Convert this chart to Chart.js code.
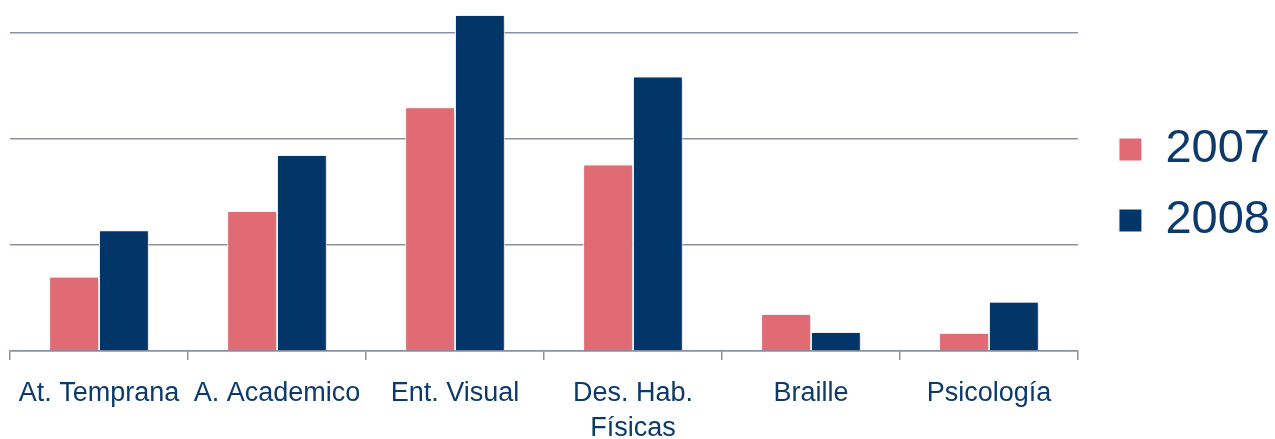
<!DOCTYPE html>
<html><head><meta charset="utf-8">
<script src="https://cdn.jsdelivr.net/npm/chart.js@4.4.0/dist/chart.umd.min.js"></script>
<style>html,body{margin:0;padding:0;background:#fff}#wrap{width:1275px;height:439px}</style>
</head><body><div id="wrap"><canvas id="c"></canvas></div>
<script>
const categories = ['At. Temprana', 'A. Academico', 'Ent. Visual', ['Des. Hab.', 'Físicas'], 'Braille', 'Psicología'];
const series2007 = [7.0, 13.2, 23.0, 17.6, 3.5, 1.7];
const series2008 = [11.4, 18.5, 31.7, 25.9, 1.8, 4.65];
const yTicks = [0, 10, 20, 30];

const TEXT = '#0B3A6B';
const GRID = '#8A91A3';

const shadow = {
  id: 'shadow',
  beforeDatasetsDraw(chart) {
    const ctx = chart.ctx; ctx.save();
    ctx.shadowColor = 'rgba(0,0,0,0.28)'; ctx.shadowBlur = 5; ctx.shadowOffsetX = 1.5; ctx.shadowOffsetY = 1.5;
  },
  afterDatasetsDraw(chart) { chart.ctx.restore(); }
};

const legendShift = {
  id: 'legendShift',
  afterLayout(chart) {
    const lg = chart.legend;
    if (!lg) return;
    lg.left += 17; lg.right += 17;
    lg.top -= 7; lg.bottom -= 7;
  }
};

new Chart(document.getElementById('c'), {
  type: 'bar',
  data: {
    labels: categories,
    datasets: [
      { label: '2007', data: series2007, backgroundColor: '#E06B75', borderColor: '#ffffff', borderWidth: 1, clip: false },
      { label: '2008', data: series2008, backgroundColor: '#033668', borderColor: '#ffffff', borderWidth: 1, clip: false }
    ]
  },
  options: {
    responsive: true, maintainAspectRatio: false, animation: false,
    devicePixelRatio: 1,
    layout: { padding: { top: 33, left: 10, right: 12, bottom: 0 } },
    datasets: { bar: { categoryPercentage: 0.56, barPercentage: 1.0 } },
    plugins: {
      legend: {
        position: 'right', fullSize: false,
        labels: { color: TEXT, font: { family: 'Liberation Sans', size: 47 }, boxWidth: 23, boxHeight: 23, padding: 24 }
      },
      tooltip: { enabled: false }
    },
    scales: {
      x: {
        afterFit(axis) { axis.height = 88; },
        grid: { drawOnChartArea: false, drawTicks: true, tickLength: 9, color: GRID, lineWidth: 1.5 },
        border: { display: true, color: GRID, width: 1.5 },
        ticks: { color: TEXT, font: { family: 'Liberation Sans', size: 27, lineHeight: 1.3 }, padding: 16, maxRotation: 0, autoSkip: false }
      },
      y: {
        min: 0, max: 30,
        afterBuildTicks(axis) { axis.ticks = yTicks.map(v => ({ value: v })); },
        grid: { color: GRID, lineWidth: 1.5, drawTicks: false },
        border: { display: false },
        ticks: { display: false }
      }
    }
  },
  plugins: [shadow, legendShift]
});
</script></body></html>
